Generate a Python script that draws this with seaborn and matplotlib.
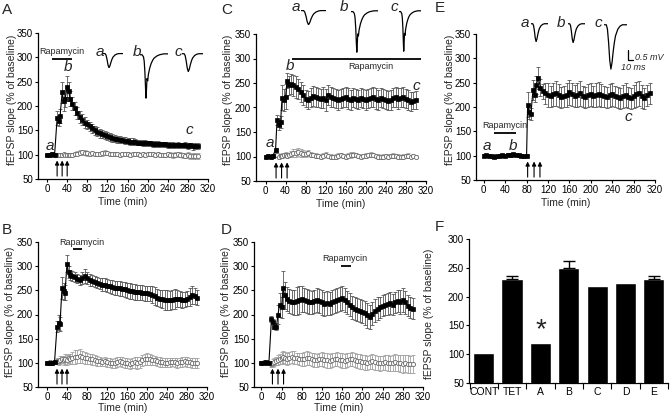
import seaborn as sns
import matplotlib.pyplot as plt

W, H = 672, 416

# ---- data ----
# time points (min), panels A-D
T = [0, 5, 10, 15, 20, 23, 26, 30, 33, 36, 40, 43, 46] + list(range(50, 305, 5))
# time points (min), panel E
T_E = list(range(0, 85, 5)) + [82, 85, 88, 92, 95, 98, 102, 106, 110] + list(range(115, 315, 5))

A_FILLED = [100, 100, 101, 100, 175, 170, 180, 228, 210, 215, 240, 230, 215,
            205, 195, 185, 178, 172, 166, 162, 158, 154, 150,
            147, 144, 142, 140, 138, 136, 134, 133, 132, 131,
            130, 129, 128, 127, 127, 126, 125, 125, 124, 124,
            123, 123, 122, 122, 122, 121, 121, 121, 120, 120,
            120, 119, 120, 119, 119, 120, 118, 119, 117, 118,
            118]
A_FILLED_ERR = [2, 2, 2, 2, 15, 12, 14, 22, 20, 18, 22, 20, 16,
                14, 13, 12, 12, 11, 11, 10, 10, 10, 9,
                9, 9, 8, 8, 8, 8, 8, 7, 7, 7,
                7, 7, 7, 7, 7, 7, 6, 6, 6, 6,
                6, 6, 6, 6, 6, 6, 6, 6, 6, 6,
                6, 6, 6, 6, 6, 6, 6, 6, 7, 6,
                6]
A_OPEN = [100, 100, 101, 100, 99, 100, 100, 100, 101, 100, 100, 99, 100,
          100, 101, 102, 104, 105, 104, 103, 102, 103, 102,
          101, 102, 103, 104, 103, 102, 101, 102, 101, 100,
          101, 102, 101, 100, 101, 102, 101, 100, 101, 100,
          101, 102, 101, 100, 101, 100, 99, 100, 101, 100,
          99, 100, 101, 100, 99, 98, 99, 98, 97, 98,
          97]
A_OPEN_ERR = [3, 3, 3, 3, 3, 3, 3, 3, 3, 3, 3, 3, 3,
              4, 4, 5, 5, 5, 5, 5, 4, 4, 4,
              4, 4, 5, 5, 4, 4, 4, 4, 4, 4,
              4, 4, 4, 4, 4, 4, 4, 4, 4, 4,
              4, 4, 4, 4, 4, 4, 4, 4, 5, 5,
              5, 5, 5, 5, 5, 5, 6, 6, 6, 6,
              6]

B_FILLED = [100, 99, 100, 101, 175, 183, 180, 255, 248, 245, 305, 288, 282,
            280, 277, 274, 272, 275, 280, 276, 272, 270, 268,
            266, 264, 262, 262, 260, 258, 257, 255, 255, 254,
            253, 252, 250, 249, 248, 247, 246, 246, 245, 244,
            244, 243, 241, 238, 235, 233, 232, 230, 230, 229,
            231, 232, 233, 232, 230, 231, 233, 236, 240, 238,
            235]
B_FILLED_ERR = [3, 3, 3, 3, 12, 15, 14, 22, 18, 16, 18, 12, 10,
                10, 10, 9, 10, 12, 14, 12, 12, 12, 12,
                12, 12, 13, 13, 14, 14, 14, 14, 14, 15,
                15, 15, 15, 16, 16, 16, 16, 16, 16, 16,
                16, 16, 18, 18, 18, 18, 18, 20, 20, 20,
                20, 20, 18, 16, 16, 16, 16, 18, 18, 16,
                15]
B_OPEN = [100, 101, 100, 102, 104, 103, 106, 107, 105, 108, 106, 109, 108,
          110, 112, 113, 114, 112, 110, 109, 108, 107, 106,
          104, 103, 102, 103, 101, 100, 99, 100, 102, 103,
          102, 100, 99, 98, 100, 101, 100, 101, 105, 107,
          108, 107, 106, 105, 103, 102, 101, 100, 100, 101,
          102, 101, 100, 101, 102, 103, 102, 101, 100, 100,
          99]
B_OPEN_ERR = [4, 4, 4, 4, 6, 7, 8, 8, 9, 10, 10, 10, 10,
              12, 14, 14, 14, 13, 12, 12, 11, 11, 10,
              10, 10, 9, 9, 9, 9, 9, 10, 10, 10,
              10, 10, 10, 10, 11, 12, 12, 12, 12, 12,
              12, 12, 11, 10, 10, 10, 9, 9, 9, 9,
              9, 9, 10, 10, 10, 10, 10, 10, 10, 10,
              10]

C_FILLED = [100, 101, 100, 102, 114, 175, 165, 170, 220, 215, 222, 255, 245,
            248, 245, 242, 238, 232, 225, 218, 215, 220, 224,
            222, 220, 218, 220, 215, 225, 222, 220, 218, 215,
            218, 220, 222, 218, 215, 220, 218, 216, 220, 218,
            215, 218, 220, 222, 218, 215, 220, 218, 216, 214,
            215, 220, 222, 218, 220, 222, 218, 215, 212, 214,
            215]
C_FILLED_ERR = [3, 3, 3, 3, 4, 10, 10, 12, 25, 22, 25, 15, 20,
                20, 22, 22, 20, 20, 20, 18, 18, 20, 20,
                20, 20, 20, 22, 22, 20, 20, 20, 20, 20,
                20, 20, 20, 22, 20, 20, 20, 20, 20, 20,
                20, 20, 20, 20, 22, 20, 20, 20, 20, 20,
                20, 20, 20, 22, 20, 20, 20, 20, 20, 18,
                18]
C_OPEN = [100, 101, 100, 102, 103, 104, 100, 101, 102, 103, 104, 102, 103,
          105, 107, 108, 109, 108, 106, 105, 107, 104, 103,
          102, 101, 100, 102, 104, 101, 100, 99, 100, 102,
          103, 101, 100, 102, 103, 104, 103, 101, 100, 101,
          102, 103, 104, 103, 101, 100, 99, 100, 101, 100,
          101, 102, 101, 100, 99, 100, 101, 102, 100, 101,
          100]
C_OPEN_ERR = [3, 3, 3, 3, 4, 4, 5, 5, 5, 5, 5, 5, 5,
              6, 8, 8, 8, 8, 7, 6, 6, 6, 5,
              5, 5, 5, 6, 6, 5, 5, 5, 5, 5,
              5, 5, 5, 5, 6, 6, 5, 5, 5, 5,
              5, 5, 5, 5, 5, 5, 5, 5, 5, 5,
              5, 5, 5, 5, 5, 5, 5, 5, 4, 4,
              4]

D_FILLED = [100, 100, 101, 100, 190, 185, 175, 175, 200, 220, 215, 255, 240,
            232, 228, 226, 225, 228, 230, 232, 230, 228, 226,
            225, 227, 230, 228, 225, 222, 224, 222, 226, 228,
            230, 232, 235, 230, 225, 220, 215, 212, 210, 208,
            206, 203, 198, 195, 202, 208, 212, 215, 218, 220,
            222, 224, 220, 225, 228, 226, 230, 225, 218, 214,
            212]
D_FILLED_ERR = [3, 3, 3, 3, 6, 5, 5, 8, 20, 25, 22, 35, 28,
                25, 25, 25, 26, 28, 28, 26, 25, 25, 24,
                24, 24, 24, 25, 25, 25, 24, 24, 24, 24,
                24, 24, 25, 25, 24, 24, 24, 24, 24, 24,
                24, 24, 25, 25, 24, 24, 24, 22, 22, 22,
                22, 22, 22, 22, 22, 24, 24, 24, 22, 22,
                22]
D_OPEN = [100, 101, 100, 100, 98, 100, 102, 104, 106, 108, 110, 112, 110,
          108, 110, 112, 111, 109, 108, 107, 108, 110, 109,
          107, 106, 105, 107, 108, 106, 105, 104, 106, 107,
          108, 106, 105, 104, 106, 107, 108, 106, 104, 103,
          102, 101, 100, 102, 103, 101, 100, 99, 100, 101,
          100, 99, 100, 101, 100, 99, 98, 99, 98, 97,
          98]
D_OPEN_ERR = [3, 3, 3, 3, 6, 8, 8, 8, 10, 10, 12, 12, 12,
              12, 12, 13, 13, 12, 12, 13, 14, 14, 14,
              14, 14, 13, 13, 14, 14, 15, 15, 14, 14,
              14, 14, 15, 15, 15, 14, 14, 14, 15, 15,
              15, 15, 14, 14, 15, 15, 15, 15, 15, 16,
              16, 16, 17, 17, 17, 18, 18, 18, 18, 18,
              18]

E_FILLED = [100, 101, 100, 99, 98, 99, 100, 101, 100, 102, 101, 103, 102, 101, 100, 99, 100,
            205, 190, 185, 235, 225, 245, 260, 240, 232,
            228, 225, 222, 226, 228, 224, 220, 222, 225, 230,
            226, 223, 225, 228, 222, 220, 224, 226, 222, 225,
            227, 224, 222, 220, 224, 226, 222, 220, 218, 222,
            225, 220, 218, 222, 226, 228, 222, 218, 224, 228]
E_FILLED_ERR = [3, 3, 3, 3, 3, 3, 3, 3, 3, 3, 3, 3, 3, 3, 3, 3, 3,
                25, 15, 12, 20, 15, 18, 22, 18, 15,
                22, 24, 22, 24, 25, 24, 22, 22, 24, 25,
                24, 22, 24, 25, 22, 22, 24, 24, 22, 24,
                24, 24, 22, 22, 24, 24, 22, 22, 22, 24,
                24, 22, 22, 24, 25, 25, 24, 22, 22, 22]

# tetanus times (arrows)
ARROWS_A = [20, 30, 40]
ARROWS_B = [20, 30, 40]
ARROWS_C = [21, 32, 43]
ARROWS_D = [22, 33, 44]
ARROWS_E = [82, 94, 105]

# panel F summary
F_LABELS = ['CONT', 'TET', 'A', 'B', 'C', 'D', 'E']
F_VALUES = [102, 230, 120, 250, 218, 223, 230]
F_ERR = [0, 5, 0, 12, 0, 0, 5]

# example fEPSP waveform shapes (normalised), x in ms
TRACE_X_SMOOTH = [0, 2, 3, 4, 5, 6, 7, 8, 9, 10, 12, 14, 16, 20]
TRACE_SMOOTH = [0, 0, -0.1, -0.4, -0.8, -1.0, -0.85, -0.6, -0.4, -0.25, -0.1, -0.03, 0, 0]
TRACE_X_NOTCH = [0, 1.5, 2.5, 3, 3.5, 4, 4.3, 4.7, 5, 5.5, 6, 7, 8, 9, 10, 12, 14, 17, 20]
TRACE_NOTCH = [0, 0, -0.05, -0.15, -0.4, -0.8, -1.0, -0.75, -0.55, -0.6, -0.45, -0.3,
               -0.2, -0.13, -0.08, -0.03, 0, 0.02, 0.02]

# ---- style ----
sns.set_theme(style="ticks")
plt.rcParams['font.family'] = ['Liberation Sans', 'DejaVu Sans']
plt.rcParams['axes.edgecolor'] = 'black'
plt.rcParams['xtick.color'] = 'black'
plt.rcParams['ytick.color'] = 'black'

fig = plt.figure(figsize=(W / 100, H / 100), dpi=100)


def px_axes(l, t, r, b):
    return fig.add_axes([l / W, 1 - b / H, (r - l) / W, (b - t) / H])


def style_axes(ax, xlim, ylim, yticks):
    ax.set_xlim(*xlim)
    ax.set_ylim(*ylim)
    ax.set_yticks(yticks)
    sns.despine(ax=ax)
    for s in ['left', 'bottom']:
        ax.spines[s].set_linewidth(0.9)
    ax.tick_params(direction='out', length=2.5, width=0.8, labelsize=7, pad=1)


def time_panel(ax, t, filled, filled_err, opn=None, opn_err=None, xlab_y=202):
    if opn is not None:
        ax.errorbar(t, opn, yerr=opn_err, fmt='none', ecolor='#a0a0a0',
                    elinewidth=0.6, capsize=1.5, capthick=0.6, zorder=2)
        sns.lineplot(x=t, y=opn, ax=ax, color='#8a8a8a', lw=0.5, marker='o',
                     markersize=3, markerfacecolor='white', markeredgecolor='#6a6a6a',
                     markeredgewidth=0.6, zorder=3)
    ax.errorbar(t, filled, yerr=filled_err, fmt='none', ecolor='#555555',
                elinewidth=0.6, capsize=1.5, capthick=0.6, zorder=4)
    sns.lineplot(x=t, y=filled, ax=ax, color='black', lw=0.8, marker='s',
                 markersize=3.2, markeredgecolor='black', markeredgewidth=0.5, zorder=5)
    style_axes(ax, ax.get_xlim(), (50, 350), range(50, 351, 50))
    ax.set_xticks(range(0, 321, 40))
    ax.set_xlabel('Time (min)', fontsize=7.5)
    ax.xaxis.label.set_verticalalignment('center')
    pos = ax.get_position()
    ax.xaxis.set_label_coords((pos.x0 + pos.x1) / 2, 1 - xlab_y / H,
                              transform=fig.transFigure)


def arrows(ax, times):
    for tt in times:
        ax.annotate('', xy=(tt, 88), xytext=(tt, 56),
                    arrowprops=dict(arrowstyle='-|>', color='black', lw=0.8,
                                    mutation_scale=6, shrinkA=0, shrinkB=0))


def drug_bar(ax, x0, x1, y, tx, ty):
    ax.plot([x0, x1], [y, y], color='black', lw=1.3, solid_capstyle='butt')
    ax.text(tx, ty, 'Rapamycin', fontsize=6.5, ha='center', va='center')


def ylabel(ax, x_px, y_px):
    ax.set_ylabel('fEPSP slope (% of baseline)', fontsize=7.5)
    ax.yaxis.set_label_coords(x_px / W, 1 - y_px / H, transform=fig.transFigure)


def trace(l, t, r, b, xs, ys):
    a = px_axes(l, t, r, b)
    a.plot(xs, ys, color='black', lw=0.9)
    a.set_xlim(0, 20)
    a.set_ylim(-1.02, 0.04)
    a.axis('off')


def ital(x_px, y_px, s, size=11):
    fig.text(x_px / W, 1 - y_px / H, s, fontsize=size, style='italic', ha='center', va='center')


# ---- panel A ----
axA = px_axes(38, 33, 208, 179)
axA.set_xlim(-18, 320)
time_panel(axA, T, A_FILLED, A_FILLED_ERR, A_OPEN, A_OPEN_ERR, xlab_y=202)
arrows(axA, ARROWS_A)
drug_bar(axA, 9, 50, 296, 30, 313)
axA.text(6, 117, 'a', fontsize=11, style='italic', ha='center', va='center')
axA.text(42, 281, 'b', fontsize=11, style='italic', ha='center', va='center')
axA.text(282, 151, 'c', fontsize=11, style='italic', ha='center', va='center')
ylabel(axA, 17, 100)

# ---- panel B ----
axB = px_axes(38, 242, 207, 387)
axB.set_xlim(-18, 320)
time_panel(axB, T, B_FILLED, B_FILLED_ERR, B_OPEN, B_OPEN_ERR, xlab_y=408)
arrows(axB, ARROWS_B)
drug_bar(axB, 52, 70, 335, 70, 348)
ylabel(axB, 15, 312)

# ---- panel C ----
axC = px_axes(256, 34, 426, 181)
axC.set_xlim(-19, 320)
time_panel(axC, T, C_FILLED, C_FILLED_ERR, C_OPEN, C_OPEN_ERR, xlab_y=204)
arrows(axC, ARROWS_C)
drug_bar(axC, 52, 311, 299, 210, 284)
axC.text(8, 127, 'a', fontsize=11, style='italic', ha='center', va='center')
axC.text(49, 284, 'b', fontsize=11, style='italic', ha='center', va='center')
axC.text(301, 244, 'c', fontsize=11, style='italic', ha='center', va='center')
ylabel(axC, 233, 100)

# ---- panel D ----
axD = px_axes(254, 242, 423, 387)
axD.set_xlim(-14.5, 320)
time_panel(axD, T, D_FILLED, D_FILLED_ERR, D_OPEN, D_OPEN_ERR, xlab_y=408)
arrows(axD, ARROWS_D)
drug_bar(axD, 158, 178, 300, 165, 315)
ylabel(axD, 231, 312)

# ---- panel E ----
axE = px_axes(476, 34, 655, 180)
axE.set_xlim(-14.5, 320)
time_panel(axE, T_E, E_FILLED, E_FILLED_ERR, xlab_y=203)
arrows(axE, ARROWS_E)
drug_bar(axE, 20, 60, 147, 39, 163)
axE.text(6, 119, 'a', fontsize=11, style='italic', ha='center', va='center')
axE.text(54, 119, 'b', fontsize=11, style='italic', ha='center', va='center')
axE.text(270, 180, 'c', fontsize=11, style='italic', ha='center', va='center')
ylabel(axE, 455, 100)

# ---- panel F ----
axF = px_axes(469, 239, 668, 383)
sns.barplot(x=F_LABELS, y=F_VALUES, color='black', saturation=1, width=0.75,
            ax=axF, zorder=3)
for i, (v, e) in enumerate(zip(F_VALUES, F_ERR)):
    if e > 0:
        axF.errorbar([i], [v], yerr=[[0], [e]], fmt='none', ecolor='black',
                     elinewidth=1, capsize=4, capthick=1, zorder=4)
style_axes(axF, (-0.52, 6.4), (50, 300), range(50, 301, 50))
axF.set_xticks(range(len(F_LABELS)))
axF.set_xticklabels(F_LABELS)
axF.tick_params(axis='x', length=0, pad=3, labelsize=7.5)
axF.set_xticks([i - 0.5 for i in range(len(F_LABELS) + 1)], minor=True)
axF.tick_params(axis='x', which='minor', direction='out', length=4, width=0.8)
axF.text(2, 142, '*', fontsize=20, ha='center', va='center')
ylabel(axF, 434, 314)

# ---- example traces ----
trace(103, 53, 123, 68, TRACE_X_SMOOTH, TRACE_SMOOTH)
trace(140, 53, 168, 99, TRACE_X_NOTCH, TRACE_NOTCH)
trace(182, 53, 203, 72, TRACE_X_SMOOTH, TRACE_SMOOTH)
ital(100, 52, 'a'); ital(137, 52, 'b'); ital(178, 52, 'c')

trace(301, 10, 326, 25, TRACE_X_SMOOTH, TRACE_SMOOTH)
trace(351, 10, 378, 53, TRACE_X_NOTCH, TRACE_NOTCH)
trace(399, 10, 421, 52, TRACE_X_NOTCH, TRACE_NOTCH)
ital(296, 7, 'a'); ital(344, 7, 'b'); ital(394, 7, 'c')

trace(531, 23, 548, 42, TRACE_X_SMOOTH, TRACE_SMOOTH)
trace(568, 23, 585, 43, TRACE_X_SMOOTH, TRACE_SMOOTH)
trace(604, 23, 627, 70, TRACE_X_SMOOTH, TRACE_SMOOTH)
ital(525, 23, 'a'); ital(561, 23, 'b'); ital(598, 23, 'c')

# scale bar
sb = px_axes(600, 40, 672, 80)
sb.set_xlim(600, 672)
sb.set_ylim(80, 40)
sb.plot([628, 628, 633], [50, 60, 60], color='black', lw=0.9)
sb.axis('off')
fig.text(635 / W, 1 - 58 / H, '0.5 mV', fontsize=6.5, style='italic', va='center')
fig.text(621 / W, 1 - 67 / H, '10 ms', fontsize=6.5, style='italic', va='center')

# panel letters
for letter, x, y in [('A', 2, 10), ('B', 2, 230), ('C', 221, 10),
                     ('D', 221, 230), ('E', 435, 8), ('F', 435, 227)]:
    fig.text(x / W, 1 - y / H, letter, fontsize=11, va='center', ha='left')

fig.savefig('out.png', dpi=100)
